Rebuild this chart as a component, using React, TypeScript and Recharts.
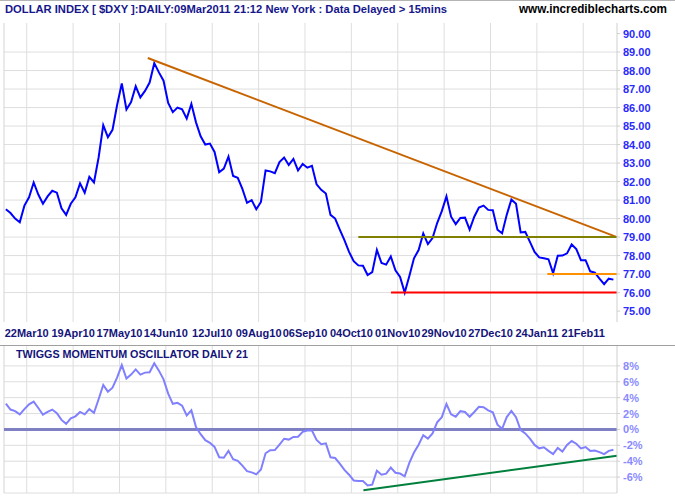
import React from 'react';
import { LineChart, Line, XAxis, YAxis, ReferenceLine } from 'recharts';

// trading-day index: 0 = Mon 08Mar10, one step per weekday
const startIndex = 1;
const stepDays = 2;

const dateTickIndex = [10, 30, 50, 70, 90, 110, 130, 150, 170, 190, 210, 230, 250];
const dateTickLabels = [
  '22Mar10', '19Apr10', '17May10', '14Jun10', '12Jul10', '09Aug10', '06Sep10',
  '04Oct10', '01Nov10', '29Nov10', '27Dec10', '24Jan11', '21Feb11',
];

const priceValues = [
  80.5, 80.3, 80.0, 79.8, 80.7, 81.15, 81.95, 81.3, 80.8, 81.2,
  81.5, 81.4, 80.55, 80.2, 80.8, 81.15, 81.9, 81.4, 82.25, 81.95,
  83.3, 85.05, 84.4, 84.8, 86.15, 87.3, 85.9, 86.3, 87.15, 86.55,
  86.9, 87.35, 88.4, 87.9, 87.45, 86.25, 85.75, 86.0, 85.9, 85.4,
  86.2, 85.2, 84.45, 84.0, 84.05, 83.6, 82.5, 82.7, 83.35, 82.3,
  82.2, 81.6, 80.85, 81.0, 80.5, 80.9, 82.6, 82.55, 82.45, 83.05,
  83.3, 82.9, 83.22, 82.6, 82.95, 82.75, 82.85, 81.85, 81.55, 81.35,
  80.2, 80.0, 79.4, 78.83, 78.2, 77.7, 77.47, 77.45, 76.95, 77.1,
  78.3, 77.6, 77.51, 77.95, 77.2, 76.85, 76.0, 76.9, 77.85, 78.3,
  79.2, 78.62, 78.95, 79.76, 80.4, 81.2, 80.1, 79.7, 80.03, 80.05,
  79.4, 80.1, 80.6, 80.7, 80.47, 80.45, 79.4, 79.2, 80.2, 81.03,
  80.8, 79.25, 79.28, 78.74, 78.2, 77.9, 77.85, 77.8, 77.05, 77.99,
  78.0, 78.12, 78.6, 78.35, 77.75, 77.75, 77.15, 77.08, 76.75, 76.45,
  76.75, 76.7,
];

const momentumValues = [
  3.25, 2.5, 2.3, 1.9, 2.55, 3.15, 3.5, 2.7, 1.85, 2.2,
  2.5, 2.05, 1.2, 0.7, 1.4, 1.65, 2.2, 1.9, 2.55, 2.1,
  3.8, 5.6, 4.75, 5.25, 6.55, 8.1, 6.4, 6.9, 7.55, 6.9,
  7.15, 7.2, 8.33, 7.4, 6.3, 4.5, 3.22, 3.35, 3.0, 1.76,
  2.4, 0.3, -0.6, -1.35, -1.68, -2.2, -3.5, -3.56, -2.7, -3.75,
  -3.95, -4.55, -5.25, -5.4, -5.65, -5.05, -3.0, -2.62, -2.6, -1.9,
  -1.17, -1.28, -0.95, -0.92, -0.3, -0.15, -0.15, -1.32, -1.85, -1.75,
  -3.5, -3.6, -4.3, -5.1, -5.7, -6.42, -6.5, -6.5, -7.05, -6.95,
  -5.2, -5.7, -5.56, -4.8, -5.45, -5.55, -5.9, -4.2, -2.9, -1.92,
  -0.72, -1.15, -0.5, 0.9, 1.55, 3.2, 1.9, 1.6, 2.3, 2.2,
  1.6, 2.2, 2.85, 2.8, 2.4, 2.15, 0.6, 0.08, 1.55, 2.32,
  1.55, -0.08, -0.5, -1.15, -1.95, -2.38, -2.25, -2.7, -3.1, -2.32,
  -2.78, -1.95, -1.46, -1.8, -2.38, -2.22, -2.7, -2.65, -2.85, -3.1,
  -2.7, -2.55,
];

const priceTicks = [75, 76, 77, 78, 79, 80, 81, 82, 83, 84, 85, 86, 87, 88, 89, 90];
const priceGridValues = [76, 77, 78, 79, 80, 81, 82, 83, 84, 85, 86, 87, 88, 89];
const momentumTicks = [8, 6, 4, 2, 0, -2, -4, -6];
const momentumGridValues = [-8, -6, -4, -2, 2, 4, 6, 8];

// drawn trend lines, as [index, value] end points
const downTrend = [{ x: 62.2, y: 88.68 }, { x: 264.55, y: 79.0 }];
const level79 = [{ x: 153, y: 79 }, { x: 264.55, y: 79 }];
const level77 = [{ x: 234.5, y: 77 }, { x: 264.55, y: 77 }];
const level76 = [{ x: 167.1, y: 76 }, { x: 264.55, y: 76 }];
const momentumTrend = [{ x: 155.2, y: -7.66 }, { x: 264.55, y: -3.3 }];

const xDomain: [number, number] = [0.2, 264.55];
const FONT = '"Liberation Sans", Arial, Helvetica, sans-serif';
const GRID = '#dedede';

const priceData = priceValues.map((v, k) => ({ i: startIndex + k * stepDays, price: v }));
const momentumData = momentumValues.map((v, k) => ({ i: startIndex + k * stepDays, tmo: v }));

const DateTick = (props: any) => {
  const { x, y, payload } = props;
  const label = dateTickLabels[dateTickIndex.indexOf(payload.value)];
  return (
    <text x={x} y={y + 15} textAnchor="middle" fill="#14147a" fontSize={11} fontWeight="bold" fontFamily={FONT}>
      {label}
    </text>
  );
};

const PriceTick = (props: any) => {
  const { x, y, payload } = props;
  return (
    <text x={x} y={y + 4} textAnchor="start" fill="#2a2aff" fontSize={11} fontWeight="bold" fontFamily={FONT}>
      {payload.value.toFixed(2)}
    </text>
  );
};

const MomentumTick = (props: any) => {
  const { x, y, payload } = props;
  return (
    <text x={x} y={y + 4} textAnchor="start" fill="#8a8aff" fontSize={11} fontWeight="bold" fontFamily={FONT}>
      {payload.value}%
    </text>
  );
};

export default function App() {
  return (
    <div style={{ position: 'absolute', left: 0, top: 0, width: 675, height: 500, background: '#fff' }}>
      <div style={{ position: 'absolute', left: 0, top: 0 }}>
        <LineChart width={675} height={345} data={priceData} margin={{ top: 23, right: 0, bottom: 0, left: 4 }}>
          <XAxis
            dataKey="i"
            type="number"
            domain={xDomain}
            allowDataOverflow
            ticks={dateTickIndex}
            interval={0}
            tick={(p: any) => <DateTick {...p} />}
            axisLine={false}
            tickLine={false}
            tickSize={0}
            tickMargin={0}
            height={23}
          />
          <YAxis
            orientation="right"
            type="number"
            domain={[74.41, 90.57]}
            allowDataOverflow
            ticks={priceTicks}
            interval={0}
            width={58}
            tick={(p: any) => <PriceTick {...p} />}
            axisLine={{ stroke: '#cfcfcf' }}
            tickLine={{ stroke: '#cfcfcf' }}
            tickSize={3}
            tickMargin={3}
          />
          {priceGridValues.map((v) => (
            <ReferenceLine key={'h' + v} y={v} stroke={GRID} strokeWidth={1} />
          ))}
          {dateTickIndex.map((t) => (
            <ReferenceLine key={'v' + t} x={t} stroke={GRID} strokeWidth={1} />
          ))}
          <ReferenceLine x={xDomain[0]} stroke="#d4d4d4" strokeWidth={1} />
          <Line type="linear" dataKey="price" stroke="#0000ff" strokeWidth={2} dot={false} isAnimationActive={false} />
          <ReferenceLine segment={downTrend} stroke="#c86400" strokeWidth={2} />
          <ReferenceLine segment={level79} stroke="#808000" strokeWidth={2} />
          <ReferenceLine segment={level77} stroke="#ff9000" strokeWidth={2} />
          <ReferenceLine segment={level76} stroke="#ff0000" strokeWidth={2} />
        </LineChart>
      </div>
      <div style={{ position: 'absolute', left: 0, top: 345 }}>
        <LineChart width={675} height={155} data={momentumData} margin={{ top: 1, right: 0, bottom: 7, left: 4 }}>
          <XAxis dataKey="i" type="number" domain={xDomain} allowDataOverflow hide />
          <YAxis
            orientation="right"
            type="number"
            domain={[-8, 10.5]}
            allowDataOverflow
            ticks={momentumTicks}
            interval={0}
            width={58}
            tick={(p: any) => <MomentumTick {...p} />}
            axisLine={{ stroke: '#cfcfcf' }}
            tickLine={{ stroke: '#cfcfcf' }}
            tickSize={3}
            tickMargin={3}
          />
          {momentumGridValues.map((v) => (
            <ReferenceLine key={'h' + v} y={v} stroke={GRID} strokeWidth={1} />
          ))}
          {dateTickIndex.map((t) => (
            <ReferenceLine key={'v' + t} x={t} stroke={GRID} strokeWidth={1} />
          ))}
          <ReferenceLine x={xDomain[0]} stroke="#d4d4d4" strokeWidth={1} />
          <ReferenceLine y={0} stroke="#7f7fc4" strokeWidth={3} />
          <Line type="linear" dataKey="tmo" stroke="#8080ff" strokeWidth={2} dot={false} isAnimationActive={false} />
          <ReferenceLine segment={momentumTrend} stroke="#00803c" strokeWidth={2} />
        </LineChart>
      </div>
      <svg width={675} height={500} style={{ position: 'absolute', left: 0, top: 0, pointerEvents: 'none' }}>
        <line x1={0} y1={0.5} x2={675} y2={0.5} stroke="#b4b4b4" />
        <line x1={0} y1={345.5} x2={675} y2={345.5} stroke="#a0a0a0" />
        <text x={5} y={13} fill="#16168c" fontSize={11} fontWeight="bold" fontFamily={FONT} textLength={442} lengthAdjust="spacingAndGlyphs">
          DOLLAR INDEX [ $DXY ]:DAILY:09Mar2011 21:12 New York : Data Delayed &gt; 15mins
        </text>
        <text x={519} y={13} fill="#000000" fontSize={12} fontWeight="bold" fontFamily={FONT} textLength={148} lengthAdjust="spacingAndGlyphs">
          www.incrediblecharts.com
        </text>
        <text x={16} y={358} fill="#14147a" fontSize={11} fontWeight="bold" fontFamily={FONT} textLength={232} lengthAdjust="spacingAndGlyphs">
          TWIGGS MOMENTUM OSCILLATOR DAILY 21
        </text>
      </svg>
    </div>
  );
}
